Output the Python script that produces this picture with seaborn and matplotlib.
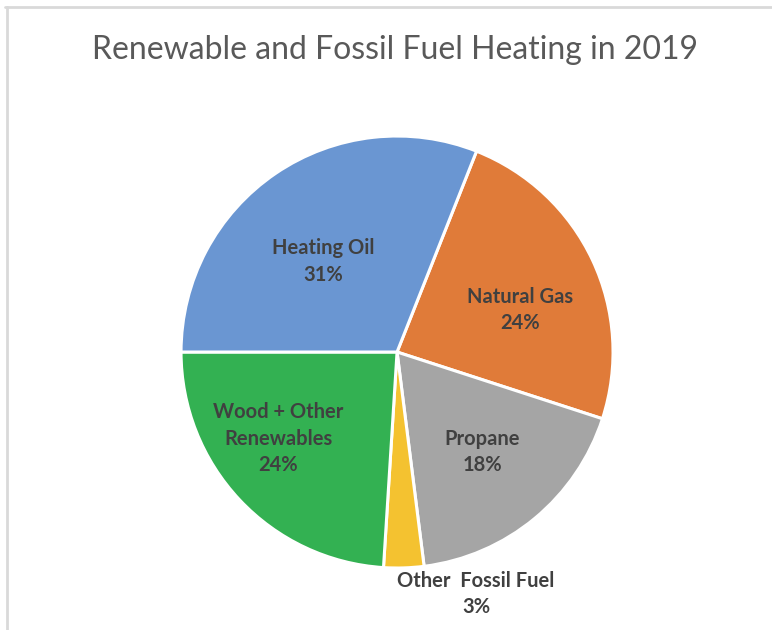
import matplotlib
matplotlib.use("Agg")
import matplotlib.pyplot as plt
from matplotlib.lines import Line2D
import seaborn as sns
import numpy as np
import pandas as pd

# ---- data ----
categories = ["Natural Gas", "Propane", "Other  Fossil Fuel", "Wood + Other\nRenewables", "Heating Oil"]
shares = [24, 18, 3, 24, 31]
colors = ["#E07B39", "#A5A5A5", "#F4C230", "#33B152", "#6A96D2"]
title = "Renewable and Fossil Fuel Heating in 2019"

df = pd.DataFrame({"category": categories, "share": shares, "color": colors})

sns.set_theme(style="white")
plt.rcParams["font.family"] = ["Lato", "DejaVu Sans"]

fig = plt.figure(figsize=(7.72, 6.30), dpi=100)
fig.patch.set_facecolor("white")

ax = fig.add_axes([0.2345, 0.0984, 0.5596, 0.6857])
wedges, _ = ax.pie(df["share"], colors=df["color"], startangle=68.4, counterclock=False,
                   wedgeprops=dict(edgecolor="white", linewidth=2.2))
ax.set_aspect("equal")
ax.set_xlim(-1, 1)
ax.set_ylim(-1, 1)

# label placement (radius fraction, angle tweak in degrees, extra x offset)
placement = [(0.60, -6.3, 0.0), (0.61, 0.9, 0.0), (1.12, 0, 0.33), (0.68, -7, 0.0), (0.54, 5, 0.0)]
for w, cat, val, (r, dth, xo) in zip(wedges, df["category"], df["share"], placement):
    mid = np.deg2rad((w.theta1 + w.theta2) / 2 + dth)
    x = r * np.cos(mid) + xo
    y = r * np.sin(mid)
    ax.text(x, y, f"{cat}\n{val}%", ha="center", va="center", fontsize=14.5,
            fontweight="bold", color="#404040", linespacing=1.4)

fig.text(0.512, 0.921, title, ha="center", va="center", fontsize=23, color="#595959")

# chart-area border (top and left visible)
fig.add_artist(Line2D([5 / 772, 1], [1 - 7 / 630, 1 - 7 / 630], color="#D9D9D9", lw=2,
                      transform=fig.transFigure))
fig.add_artist(Line2D([7 / 772, 7 / 772], [0, 1 - 7 / 630], color="#D9D9D9", lw=2,
                      transform=fig.transFigure))

fig.savefig("out.png", dpi=100, facecolor="white")
